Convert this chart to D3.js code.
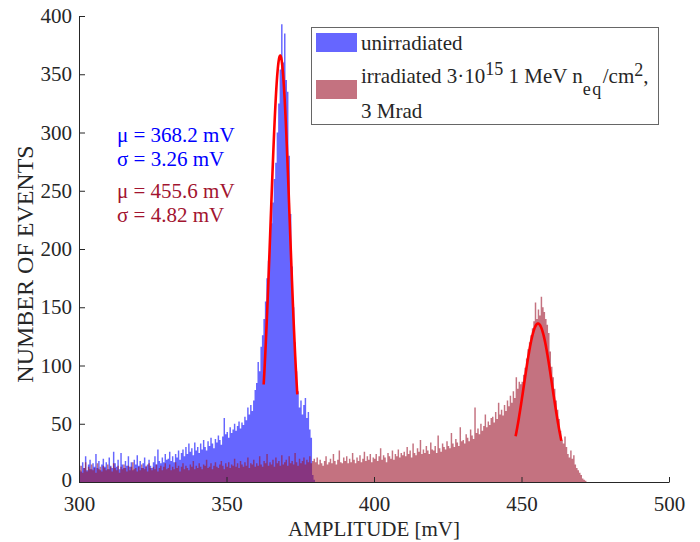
<!DOCTYPE html>
<html>
<head>
<meta charset="utf-8">
<script src="https://cdn.jsdelivr.net/npm/d3@7"></script>
<style>
  body { margin: 0; background: #fff; }
  svg text { font-family: "Liberation Serif", "Times New Roman", serif; fill: #262626; }
</style>
</head>
<body>
<div id="chart"></div>
<script>
// Histogram bins: 0.5 mV wide, first bin starts at 300 mV
const binStart = 300;
const binWidth = 0.5;

// unirradiated counts (300 .. 379.5 mV)
const blueCounts = [
  14, 9, 17, 12, 22, 10, 15, 19, 11, 16, 13, 24, 12, 18, 10, 15, 20, 13, 17, 11,
  21, 14, 12, 26, 16, 13, 19, 11, 25, 15, 12, 18, 14, 22, 13, 17, 10, 19, 15, 23,
  14, 18, 12, 16, 21, 13, 15, 19, 14, 12, 17, 22, 15, 28, 18, 16, 21, 17, 24, 19,
  20, 26, 18, 22, 17, 24, 21, 27, 19, 25, 28, 22, 30, 24, 33, 26, 29, 23, 34, 27,
  30, 25, 33, 28, 36, 30, 27, 35, 31, 38, 33, 29, 37, 34, 40, 36, 32, 39, 55, 41,
  43, 38, 47, 42, 45, 50, 44, 48, 52, 46, 51, 49, 56, 53, 64, 58, 66, 61, 70, 79,
  85, 103, 95, 116, 126, 140, 155, 175, 190, 205, 222, 240, 260, 274, 300, 325, 354, 393, 360, 385,
  345, 335, 280, 230, 185, 150, 120, 95, 78, 64, 70, 58, 66, 72, 55, 60, 45, 38, 6, 2
];

// irradiated counts (300 .. 471.5 mV)
const redCounts = [
  10, 14, 8, 12, 17, 9, 13, 11, 15, 10, 12, 8, 16, 11, 13, 9, 14, 12, 10, 15,
  11, 13, 9, 16, 12, 10, 14, 8, 13, 11, 15, 12, 9, 14, 10, 13, 17, 11, 12, 9,
  13, 10, 15, 12, 11, 14, 9, 16, 12, 10, 13, 11, 15, 9, 12, 14, 10, 13, 16, 11,
  12, 15, 10, 13, 11, 17, 12, 14, 9, 13, 16, 11, 14, 12, 10, 15, 13, 18, 11, 14,
  12, 16, 13, 11, 15, 14, 19, 12, 13, 16, 11, 14, 17, 13, 12, 15, 18, 14, 11, 16,
  13, 17, 12, 15, 14, 20, 13, 16, 12, 18, 15, 13, 17, 14, 21, 12, 16, 15, 19, 13,
  16, 14, 22, 15, 13, 18, 16, 24, 14, 17, 15, 19, 13, 21, 16, 18, 14, 23, 15, 17,
  19, 14, 22, 16, 18, 15, 25, 17, 14, 20, 16, 18, 21, 15, 19, 17, 22, 16, 18, 20,
  17, 21, 15, 19, 16, 14, 18, 22, 15, 17, 20, 16, 24, 18, 15, 19, 27, 17, 16, 21,
  18, 22, 16, 20, 17, 25, 19, 16, 21, 18, 23, 17, 20, 26, 18, 22, 19, 24, 17, 21,
  20, 24, 18, 22, 29, 19, 23, 21, 17, 25, 22, 20, 27, 19, 24, 22, 28, 21, 25, 23,
  26, 22, 30, 24, 27, 21, 33, 25, 23, 29, 26, 36, 24, 28, 25, 31, 27, 24, 34, 28,
  27, 31, 25, 40, 29, 26, 33, 30, 28, 35, 31, 29, 42, 33, 30, 37, 34, 31, 47, 35,
  36, 33, 41, 38, 35, 45, 40, 37, 64, 42, 46, 41, 50, 44, 48, 58, 47, 52, 49, 55,
  56, 51, 60, 54, 68, 58, 62, 57, 66, 61, 70, 65, 74, 68, 78, 72, 90, 80, 86, 84,
  86, 92, 98, 106, 114, 120, 126, 132, 138, 154, 140, 148, 143, 159, 150, 146, 140, 135, 128, 112,
  99, 90, 80, 70, 62, 54, 44, 36, 33, 39, 30, 24, 21, 27, 20, 23, 15, 12, 10, 8,
  6, 3, 2, 1
];

// Gaussian fits: [mu, sigma, amplitude, from, to]
const blueFit = [368.2, 3.26, 366, 362.6, 374.0];
const redFit = [455.6, 4.82, 136, 448.0, 463.5];

const xTicks = [300, 350, 400, 450, 500];
const yTicks = [0, 50, 100, 150, 200, 250, 300, 350, 400];

const width = 700, height = 542;
const svg = d3.select('#chart').append('svg')
  .attr('width', width)
  .attr('height', height);

const x = d3.scaleLinear().domain([300, 500]).range([79, 669]);
const y = d3.scaleLinear().domain([0, 400]).range([482, 16]);

const blueFill = 'rgba(0, 0, 255, 0.6)';
const redFill = 'rgba(157, 20, 43, 0.6)';

// draw a histogram as one stepped area so neighbouring bins have no seams
function drawHist(counts, fill) {
  const pts = counts.map((c, i) => [binStart + i * binWidth, c]);
  pts.push([binStart + counts.length * binWidth, 0]);
  const area = d3.area()
    .curve(d3.curveStepAfter)
    .x(d => x(d[0]))
    .y0(y(0))
    .y1(d => y(d[1]));
  svg.append('path')
    .datum(pts)
    .attr('fill', fill)
    .attr('d', area);
}

drawHist(blueCounts, blueFill);
drawHist(redCounts, redFill);

// fitted gaussians
function drawFit(fit) {
  const [mu, sigma, amp, lo, hi] = fit;
  const pts = d3.range(lo, hi + 0.001, 0.1)
    .map(v => [v, amp * Math.exp(-((v - mu) ** 2) / (2 * sigma * sigma))]);
  svg.append('path')
    .datum(pts)
    .attr('fill', 'none')
    .attr('stroke', '#ff0000')
    .attr('stroke-width', 2.6)
    .attr('d', d3.line().x(d => x(d[0])).y(d => y(d[1])));
}
drawFit(blueFit);
drawFit(redFit);

// axes (MATLAB style, ticks inward)
const xAxis = svg.append('g')
  .attr('transform', `translate(0,${y(0)})`)
  .call(d3.axisBottom(x).tickValues(xTicks).tickSizeInner(-5).tickSizeOuter(0).tickPadding(14));
const yAxis = svg.append('g')
  .attr('transform', `translate(${x(300)},0)`)
  .call(d3.axisLeft(y).tickValues(yTicks).tickSizeInner(-6).tickSizeOuter(0).tickPadding(7));

[xAxis, yAxis].forEach(a => {
  a.select('.domain').attr('stroke', '#262626').attr('stroke-width', 1);
  a.selectAll('.tick line').attr('stroke', '#262626');
  a.selectAll('.tick text')
    .attr('font-family', '"Liberation Serif", serif')
    .attr('font-size', 21)
    .attr('fill', '#262626');
});
// lift the "0" label a bit so it clears the "300" below it
yAxis.selectAll('.tick text').filter(d => d === 0).attr('dy', '0.22em');

svg.append('text')
  .attr('x', 374).attr('y', 536)
  .attr('text-anchor', 'middle')
  .attr('font-size', 21)
  .text('AMPLITUDE [mV]');

svg.append('text')
  .attr('transform', 'translate(33,264) rotate(-90)')
  .attr('text-anchor', 'middle')
  .attr('font-size', 24)
  .text('NUMBER OF EVENTS');

// fit parameter annotations
const notes = [
  { text: 'μ = 368.2 mV', y: 142, color: '#0000ff' },
  { text: 'σ = 3.26 mV', y: 166, color: '#0000ff' },
  { text: 'μ = 455.6 mV', y: 198, color: '#a2142f' },
  { text: 'σ = 4.82 mV', y: 222, color: '#a2142f' }
];
svg.append('g').selectAll('text')
  .data(notes)
  .join('text')
  .attr('x', 117)
  .attr('y', d => d.y)
  .attr('font-size', 21)
  .style('fill', d => d.color)
  .text(d => d.text);

// legend
const legend = svg.append('g');
legend.append('rect')
  .attr('x', 311.5).attr('y', 27.5)
  .attr('width', 347).attr('height', 97)
  .attr('fill', '#fff')
  .attr('stroke', '#666')
  .attr('stroke-width', 1);
legend.append('rect')
  .attr('x', 316).attr('y', 33).attr('width', 41).attr('height', 19)
  .attr('fill', blueFill);
legend.append('rect')
  .attr('x', 316).attr('y', 80).attr('width', 41).attr('height', 19)
  .attr('fill', redFill);
legend.append('text')
  .attr('x', 361).attr('y', 50)
  .attr('font-size', 21)
  .text('unirradiated');

const t2 = legend.append('text')
  .attr('x', 361).attr('y', 83)
  .attr('font-size', 21);
t2.append('tspan').text('irradiated 3·10');
t2.append('tspan').attr('dy', -8).attr('font-size', 18).text('15');
t2.append('tspan').attr('dy', 8).text(' 1 MeV n');
t2.append('tspan').attr('dy', 12).attr('font-size', 18).attr('letter-spacing', 1.5).text('eq');
t2.append('tspan').attr('dy', -12).text('/cm');
t2.append('tspan').attr('dy', -7).attr('font-size', 18).text('2');
t2.append('tspan').attr('dy', 7).text(',');

legend.append('text')
  .attr('x', 361).attr('y', 118)
  .attr('font-size', 21)
  .text('3 Mrad');
</script>
</body>
</html>
